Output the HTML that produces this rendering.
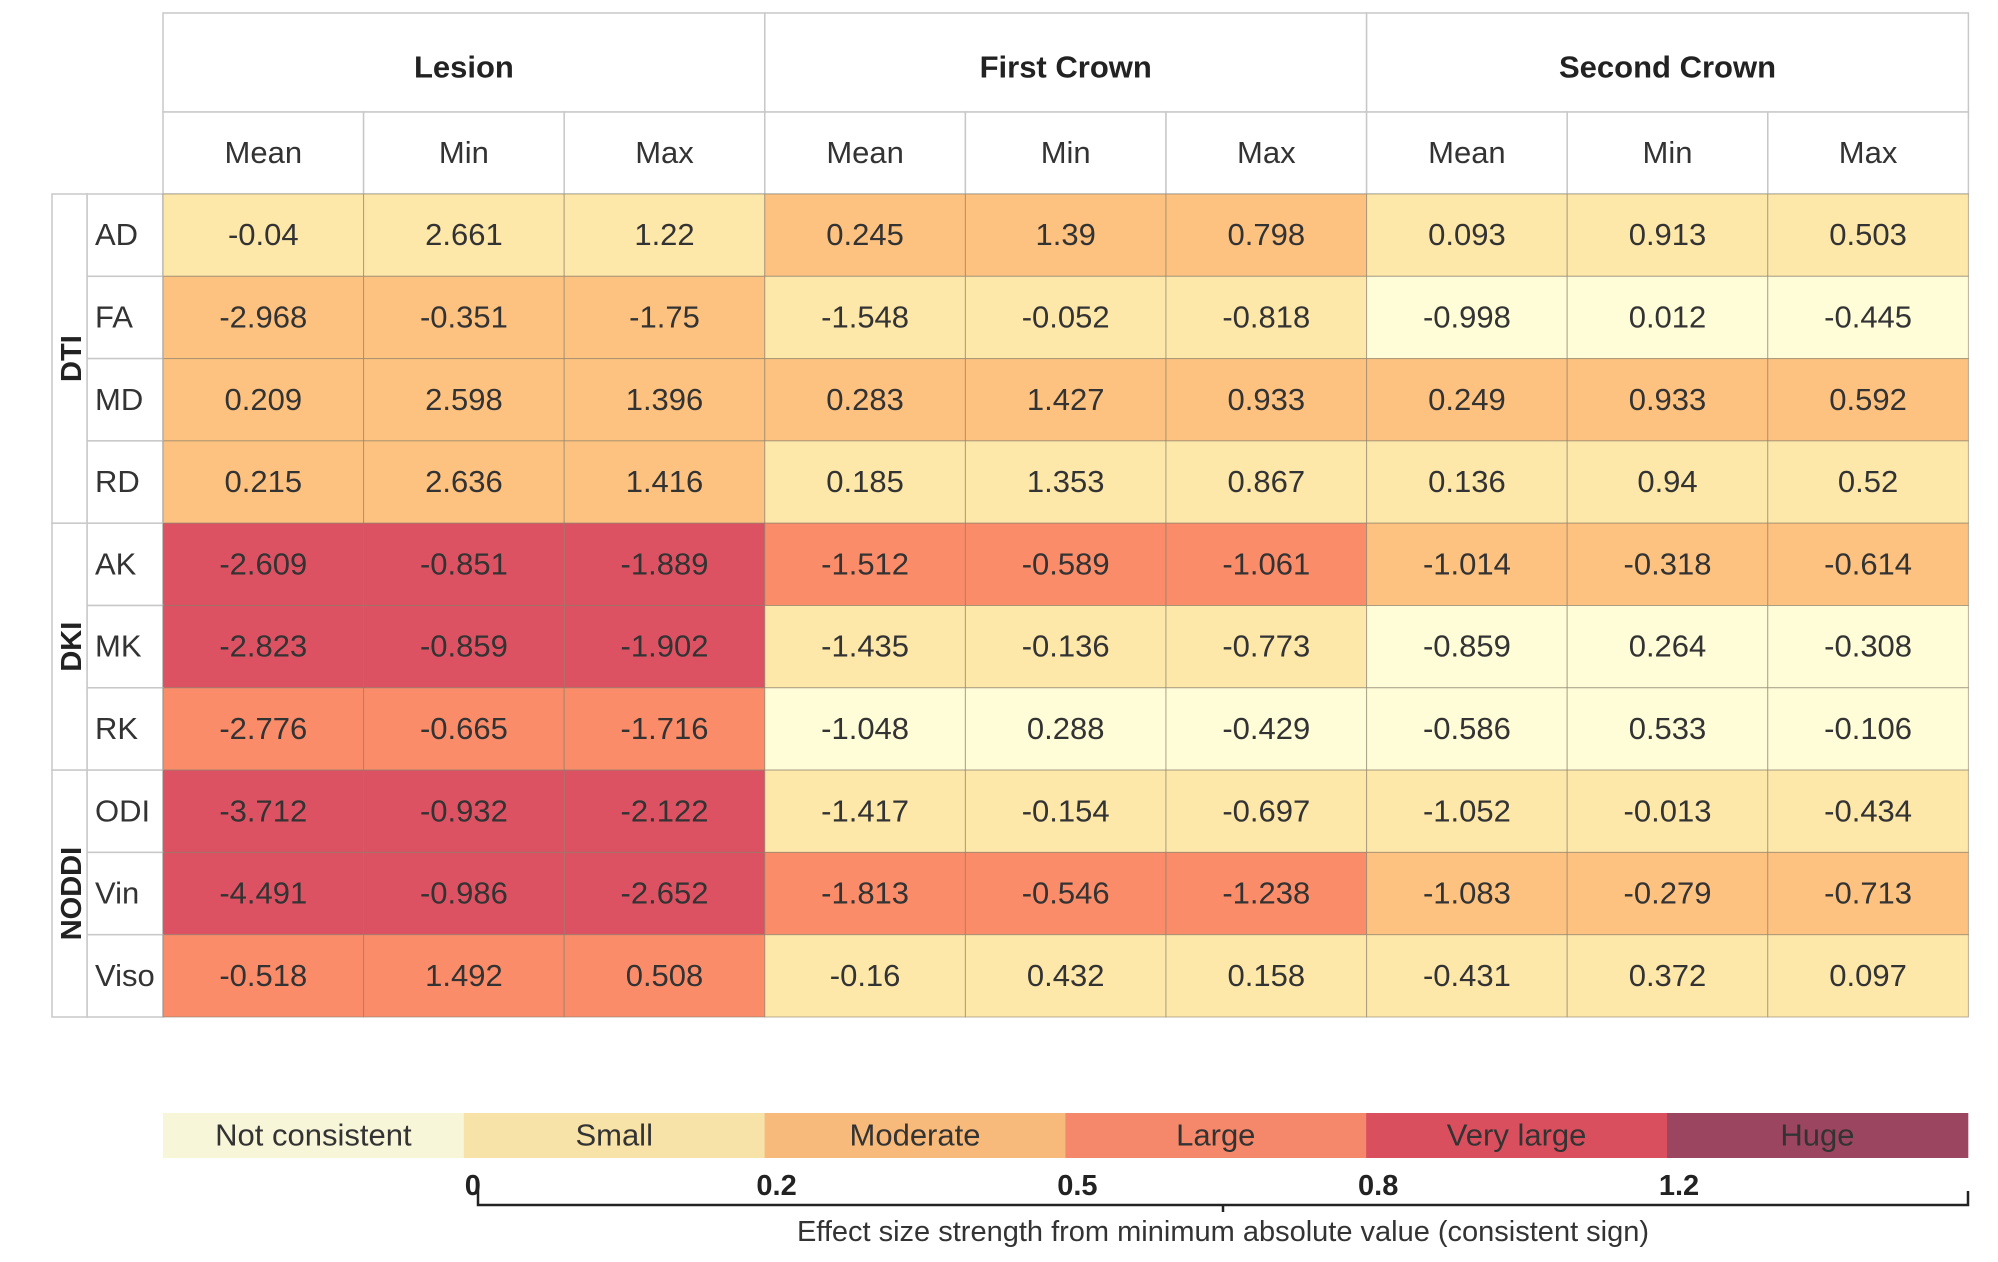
<!DOCTYPE html>
<html><head><meta charset="utf-8"><style>
html,body{margin:0;padding:0;background:#fff;}
svg{display:block;font-family:"Liberation Sans",sans-serif;}
</style></head><body>
<svg id="chart" width="1998" height="1262" viewBox="0 0 1998 1262" xmlns="http://www.w3.org/2000/svg"></svg>
<script>
const groups = ["Lesion","First Crown","Second Crown"];
const stats = ["Mean","Min","Max"];
const rowGroups = [["DTI",4],["DKI",3],["NODDI",3]];
const rows = ["AD","FA","MD","RD","AK","MK","RK","ODI","Vin","Viso"];
const values = [
["-0.04","2.661","1.22","0.245","1.39","0.798","0.093","0.913","0.503"],
["-2.968","-0.351","-1.75","-1.548","-0.052","-0.818","-0.998","0.012","-0.445"],
["0.209","2.598","1.396","0.283","1.427","0.933","0.249","0.933","0.592"],
["0.215","2.636","1.416","0.185","1.353","0.867","0.136","0.94","0.52"],
["-2.609","-0.851","-1.889","-1.512","-0.589","-1.061","-1.014","-0.318","-0.614"],
["-2.823","-0.859","-1.902","-1.435","-0.136","-0.773","-0.859","0.264","-0.308"],
["-2.776","-0.665","-1.716","-1.048","0.288","-0.429","-0.586","0.533","-0.106"],
["-3.712","-0.932","-2.122","-1.417","-0.154","-0.697","-1.052","-0.013","-0.434"],
["-4.491","-0.986","-2.652","-1.813","-0.546","-1.238","-1.083","-0.279","-0.713"],
["-0.518","1.492","0.508","-0.16","0.432","0.158","-0.431","0.372","0.097"]];
// category per (row, group): 0 N,1 S,2 M,3 L,4 VL,5 H
const cats = [
[1,2,1],[2,1,0],[2,2,2],[2,1,1],[4,3,2],[4,1,0],[3,0,0],[4,1,1],[4,3,2],[3,1,1]];
const legendLabels = ["Not consistent","Small","Moderate","Large","Very large","Huge"];
const tickLabels = ["0","0.2","0.5","0.8","1.2"];
const cellColors = ["#fffcd8","#fde7a9","#fdc280","#fa8c6a","#dd5262","#9c4560"];
const legendColors = ["#f8f6d8","#f7e2a8","#f7ba7a","#f5886a","#d94f5e","#9c4560"];

const svg = document.getElementById('chart');
const NS = "http://www.w3.org/2000/svg";
function el(tag, attrs, parent){const e=document.createElementNS(NS,tag);for(const k in attrs)e.setAttribute(k,attrs[k]);(parent||svg).appendChild(e);return e;}
const X0=163, CW=200.6, Y0=194, RH=82.3, TOP=13, H1=112;
const colX = i => X0 + i*CW;
const rowY = r => Y0 + r*RH;

groups.forEach((g,gi)=>{
  const r=el('rect',{x:colX(gi*3),y:TOP,width:CW*3,height:H1-TOP,fill:'#fff',stroke:'#c8c8c8','stroke-width':1.5});
  
  
  const t=el('text',{x:colX(gi*3)+CW*1.5,y:(TOP+H1)/2+15,'text-anchor':'middle','font-size':31,'font-weight':'bold',fill:'#222'});
  t.textContent=g;
  
  
  stats.forEach((s,si)=>{
    const c=gi*3+si;
    const rr=el('rect',{x:colX(c),y:H1,width:CW,height:Y0-H1,fill:'#fff',stroke:'#c8c8c8','stroke-width':1.5});
    
    
    const tt=el('text',{x:colX(c)+CW/2,y:(H1+Y0)/2+10,'text-anchor':'middle','font-size':31,fill:'#333'});
    tt.textContent=s;
    
    
  });
});
rows.forEach((rn,ri)=>{
  const lr=el('rect',{x:87,y:rowY(ri),width:X0-87,height:RH,fill:'#fff',stroke:'#c8c8c8','stroke-width':1.5});
  
  
  const lt=el('text',{x:95,y:rowY(ri)+RH/2+10,'font-size':31,fill:'#333'});
  lt.textContent=rn;
  
  
  values[ri].forEach((v,ci)=>{
    const cat=cats[ri][Math.floor(ci/3)];
    const r=el('rect',{x:colX(ci),y:rowY(ri),width:CW,height:RH,fill:cellColors[cat],stroke:'#8a7f6a','stroke-width':1,'stroke-opacity':0.6});
    
    
    const t=el('text',{x:colX(ci)+CW/2,y:rowY(ri)+RH/2+10,'text-anchor':'middle','font-size':31,fill:'#333'});
    t.textContent=v;
    
    
  });
});
let start=0;
rowGroups.forEach(([name,n])=>{
  const y=rowY(start), h=n*RH;
  const r=el('rect',{x:52,y:y,width:35,height:h,fill:'#fff',stroke:'#c8c8c8','stroke-width':1.5});
  
  
  const cx=81, cy=y+h/2;
  const t=el('text',{x:cx,y:cy,'text-anchor':'middle','font-size':29,'font-weight':'bold',fill:'#222',transform:`rotate(-90 ${cx} ${cy})`});
  t.textContent=name;
  
  
  start+=n;
});
const LX=163, LW=300.8, LY=1113, LH=45;
legendLabels.forEach((l,i)=>{
  const r=el('rect',{x:LX+i*LW,y:LY,width:LW+0.5,height:LH,fill:legendColors[i]});
  
  
  const t=el('text',{x:LX+i*LW+LW/2,y:LY+LH/2+10,'text-anchor':'middle','font-size':31,fill:'#333'});
  t.textContent=l;
  
  
});
tickLabels.forEach((tk,i)=>{
  const x = i===0 ? LX+LW+9 : LX+(i+1)*LW+12;
  const t=el('text',{x:x,y:1195,'text-anchor':'middle','font-size':29,'font-weight':'bold',fill:'#222'});
  t.textContent=tk;
  
  
});
const br=el('path',{d:'M478 1186 V1205 H1968 V1191 M1223 1205 V1212',fill:'none',stroke:'#222','stroke-width':2.5});


const ax=el('text',{x:1223,y:1241,'text-anchor':'middle','font-size':29,fill:'#333'});
ax.textContent='Effect size strength from minimum absolute value (consistent sign)';


</script>
</body></html>
